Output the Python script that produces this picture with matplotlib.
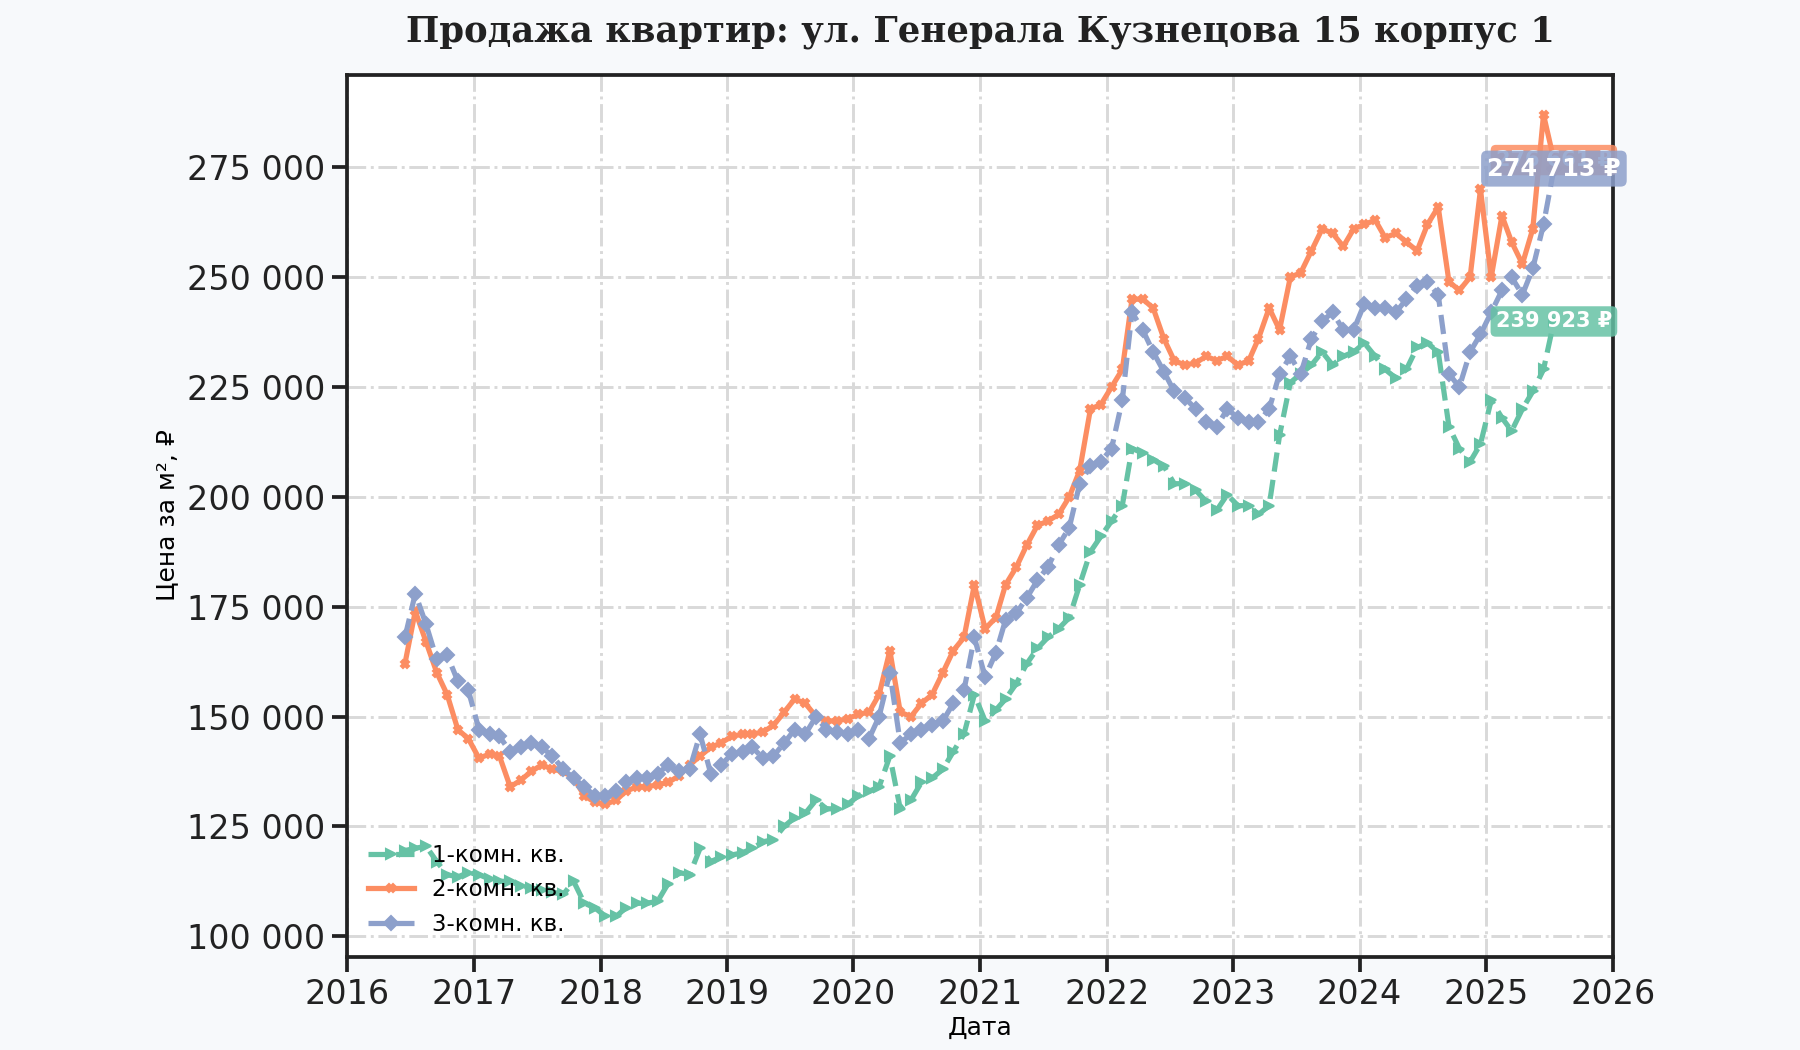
import pandas as pd
import matplotlib
matplotlib.use("Agg")
import matplotlib.pyplot as plt
import matplotlib.dates as mdates
from matplotlib.ticker import MultipleLocator, FuncFormatter

# monthly prices per m2, Jun 2016 .. Jul 2025
start_month = "2016-06-01"

one_room = [
    119500, 120000, 120500, 117000, 114000, 113500, 114500,
    114000, 113000, 112500, 112500, 111500, 111000, 110500, 110000, 109500, 112500, 107500, 106500,
    104500, 104500, 106500, 107500, 107500, 108000, 112000, 114500, 114000, 120000, 117000, 118000,
    118500, 119000, 120000, 121500, 122000, 125000, 127000, 128000, 131000, 129000, 129000, 130000,
    132000, 133000, 134000, 141000, 129000, 131000, 135000, 136000, 138000, 142000, 146000, 155000,
    149000, 151500, 154000, 157500, 162000, 165500, 168000, 170000, 172500, 180000, 187500, 191000,
    194500, 198000, 211000, 210000, 208500, 207000, 203000, 203000, 201500, 199000, 197000, 200500,
    198000, 198000, 196000, 198000, 214000, 226000, 228000, 230000, 233000, 230000, 232000, 233000,
    235000, 232000, 229000, 227000, 229000, 234000, 235000, 233000, 216000, 211000, 208000, 212000,
    222000, 218000, 215000, 220000, 224000, 229000, 239923,
]

two_room = [
    162000, 174000, 167000, 160000, 155000, 147000, 145000,
    140500, 141500, 141000, 134000, 135500, 137500, 139000, 138000, 137500, 136000, 132000, 130500,
    130000, 131000, 133000, 134000, 134000, 134500, 135000, 136500, 139000, 141000, 143000, 144000,
    145500, 146000, 146000, 146500, 148000, 151000, 154000, 153000, 150000, 149000, 149000, 149500,
    150500, 151000, 155000, 165000, 151000, 150000, 153000, 155000, 160000, 165000, 168000, 180000,
    170000, 172500, 180000, 184000, 189000, 193500, 194500, 196000, 200000, 206000, 220000, 221000,
    225000, 229000, 245000, 245000, 243000, 236000, 231000, 230000, 230500, 232000, 231000, 232000,
    230000, 231000, 236000, 243000, 238000, 250000, 251000, 256000, 261000, 260000, 257000, 261000,
    262000, 263000, 259000, 260000, 258000, 256000, 262000, 266000, 249000, 247000, 250000, 270000,
    250000, 264000, 258000, 253000, 261000, 287000, 276661,
]

three_room = [
    168000, 178000, 171000, 163000, 164000, 158000, 156000,
    147000, 146000, 145500, 142000, 143000, 144000, 143000, 141000, 138000, 136000, 134000, 132000,
    132000, 133000, 135000, 136000, 136000, 137000, 139000, 137500, 138000, 146000, 137000, 139000,
    141500, 142000, 143000, 140500, 141000, 144000, 147000, 146000, 150000, 147000, 146500, 146000,
    147000, 145000, 150000, 160000, 144000, 146000, 147000, 148000, 149000, 153000, 156000, 168000,
    159000, 164500, 172000, 173500, 177000, 181000, 184000, 189000, 193000, 203000, 207000, 208000,
    211000, 222000, 242000, 238000, 233000, 228500, 224000, 222500, 220000, 217000, 216000, 220000,
    218000, 217000, 217000, 220000, 228000, 232000, 228000, 236000, 240000, 242000, 238000, 238000,
    244000, 243000, 243000, 242000, 245000, 248000, 249000, 246000, 228000, 225000, 233000, 237000,
    242000, 247000, 250000, 246000, 252000, 262000, 274713,
]

series_names = ["1-комн. кв.", "2-комн. кв.", "3-комн. кв."]
colors = ["#66c2a5", "#fc8d62", "#8da0cb"]

dates = pd.date_range(start_month, periods=len(one_room), freq="MS") + pd.Timedelta(days=14)

plt.rcParams["font.family"] = ["DejaVu Sans"]

fig = plt.figure(figsize=(12, 7), dpi=150, facecolor="#f7f9fb")
ax = fig.add_axes([0.193, 0.089, 0.703, 0.84])
ax.set_facecolor("white")

ax.grid(True, linestyle="-.", color="#d9d9d9", linewidth=1.4)
ax.set_axisbelow(True)

ax.plot(dates, one_room, linestyle="--", marker=">", markersize=5, linewidth=2.5,
        color=colors[0], label=series_names[0])
ax.plot(dates, two_room, linestyle="-", marker="X", markersize=4, linewidth=2.5,
        color=colors[1], label=series_names[1])
ax.plot(dates, three_room, linestyle="--", marker="D", markersize=5, linewidth=2.5,
        color=colors[2], label=series_names[2])

# last-value labels (the 2-room one sits under the 3-room one, as in the source)
last_vals = [one_room[-1], two_room[-1], three_room[-1]]
label_sizes = [10, 10, 11.5]
for val, c, fs in zip(last_vals, colors, label_sizes):
    txt = f"{val:,} ₽".replace(",", " ")
    ax.text(dates[-1], val, txt, ha="center", va="center", fontsize=fs,
            fontweight="bold", color="white",
            bbox=dict(boxstyle="round,pad=0.25", facecolor=c, edgecolor="none", alpha=0.85))

ax.set_xlim(pd.Timestamp("2016-01-01"), pd.Timestamp("2026-01-01"))
ax.xaxis.set_major_locator(mdates.YearLocator())
ax.xaxis.set_major_formatter(mdates.DateFormatter("%Y"))
ax.yaxis.set_major_locator(MultipleLocator(25000))
ax.yaxis.set_major_formatter(FuncFormatter(lambda v, p: f"{int(v):,}".replace(",", " ")))

for s in ax.spines.values():
    s.set_linewidth(1.8)
    s.set_color("#222222")
ax.tick_params(axis="both", labelsize=16, length=7, width=1.8, color="#222222",
               labelcolor="#222222", direction="out")

ax.set_xlabel("Дата", fontsize=12, labelpad=2)
ax.set_ylabel("Цена за м², ₽", fontsize=12)
ax.set_title("Продажа квартир: ул. Генерала Кузнецова 15 корпус 1",
             fontsize=17, fontweight="bold", family="DejaVu Serif", color="#222222", pad=16)

ax.legend(loc="lower left", frameon=False, fontsize=11)

fig.savefig("out.png", dpi=150, facecolor=fig.get_facecolor())
